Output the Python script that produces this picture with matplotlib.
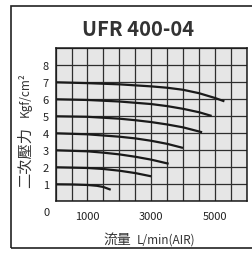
import numpy as np
import matplotlib
matplotlib.use('Agg')
import matplotlib.pyplot as plt
from matplotlib.patches import Rectangle

plt.rcParams['font.family'] = ['Noto Sans CJK TC', 'DejaVu Sans']

# set pressure (kgf/cm2) -> flow (L/min) vs secondary pressure
flow_7 = [0, 1000, 2000, 3000, 3500, 4000, 4500, 5000, 5300]
pres_7 = [7.0, 6.95, 6.88, 6.76, 6.68, 6.56, 6.36, 6.08, 5.88]
flow_6 = [0, 1000, 2000, 3000, 3500, 4000, 4500, 4900]
pres_6 = [6.0, 5.96, 5.87, 5.72, 5.6, 5.44, 5.24, 5.02]
flow_5 = [0, 1000, 2000, 2500, 3000, 3500, 4000, 4600]
pres_5 = [5.0, 4.97, 4.86, 4.77, 4.66, 4.52, 4.35, 4.06]
flow_4 = [0, 1000, 2000, 2500, 3000, 3500, 4000]
pres_4 = [4.0, 3.94, 3.8, 3.7, 3.56, 3.38, 3.14]
flow_3 = [0, 1000, 1500, 2000, 2500, 3000, 3550]
pres_3 = [3.0, 2.94, 2.86, 2.76, 2.62, 2.45, 2.21]
flow_2 = [0, 1000, 1500, 2000, 2500, 3000]
pres_2 = [2.0, 1.96, 1.9, 1.8, 1.66, 1.47]
flow_1 = [0, 500, 1000, 1300, 1500, 1730]
pres_1 = [1.0, 0.99, 0.96, 0.91, 0.84, 0.68]

curves = [(flow_1, pres_1), (flow_2, pres_2), (flow_3, pres_3), (flow_4, pres_4),
          (flow_5, pres_5), (flow_6, pres_6), (flow_7, pres_7)]

x_labeled = [1000, 3000, 5000]
y_labeled = [1, 2, 3, 4, 5, 6, 7, 8]

fig = plt.figure(figsize=(2.53, 2.55), dpi=100)
ax = fig.add_axes([0.220, 0.2067, 0.755, 0.600])
ax.set_facecolor('#e6e6e6')

for fl, pr in curves:
    ax.plot(fl, pr, color='#1a1a1a', lw=1.6, solid_capstyle='butt')

ax.set_xlim(0, 6000)
ax.set_ylim(0, 9)
xg = np.arange(0, 6001, 500)
yg = np.arange(0, 10, 1)
ax.set_xticks(xg, [str(v) if v in x_labeled else '' for v in xg])
ax.set_yticks(yg, [str(v) if v in y_labeled else '' for v in yg])
ax.grid(color='#2e2e2e', lw=0.9)
ax.set_axisbelow(True)
ax.tick_params(length=0, labelsize=8, colors='#222222')
ax.tick_params(axis='x', pad=7)
ax.tick_params(axis='y', pad=5)
for s in ax.spines.values():
    s.set_color('#1a1a1a')
    s.set_linewidth(1.1)

fig.text(46.7 / 253, 1 - 213 / 255, '0', fontsize=8, color='#222222', ha='center', va='center')

fig.text(138 / 253, 1 - 30 / 255, 'UFR 400-04', fontsize=14.5, fontweight='bold',
         color='#333333', ha='center', va='center')
fig.text(25 / 253, 1 - 157 / 255, '二次壓力', fontsize=11, color='#333333',
         rotation=90, ha='center', va='center')
fig.text(25 / 253, 1 - 95 / 255, 'Kgf/cm²', fontsize=8.5, color='#333333',
         rotation=90, ha='center', va='center')
fig.text(131 / 253, 1 - 240 / 255, '流量', fontsize=10, color='#333333', ha='right', va='center')
fig.text(137 / 253, 1 - 240 / 255, 'L/min(AIR)', fontsize=8.5, color='#333333', ha='left', va='center')

fig.patches.append(Rectangle((10.5 / 253, 1 - 248.5 / 255), 1.0, (248.5 - 6.5) / 255,
                             transform=fig.transFigure, fill=False, ec='#222222', lw=1.2))

fig.savefig('out.png', dpi=100)
